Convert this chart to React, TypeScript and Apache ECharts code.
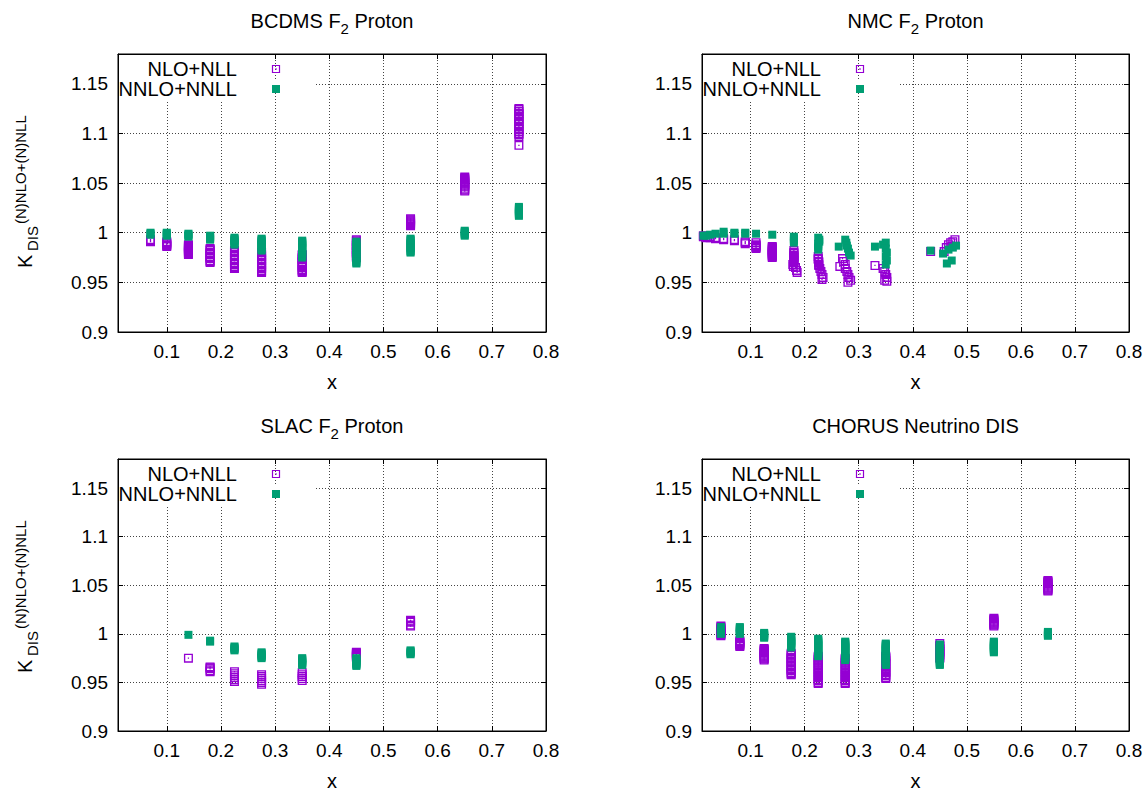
import React, { useEffect, useRef } from "react";
import * as echarts from "echarts";

const FONT = '"Liberation Sans", Arial, Helvetica, sans-serif';
const PURPLE = "#9400D3";
const GREEN = "#009E73";

const xTicks = [0.1, 0.2, 0.3, 0.4, 0.5, 0.6, 0.7, 0.8];
const xMin = 0.01;
const xMax = 0.8;
const yMin = 0.9;
const yMax = 1.18;
const yStep = 0.05;

const legendNames = ["NLO+NLL", "NNLO+NNLL"];
const titles = [
  ["BCDMS F", "2", " Proton"],
  ["NMC F", "2", " Proton"],
  ["SLAC F", "2", " Proton"],
  ["CHORUS Neutrino DIS", "", ""],
];

// BCDMS F2 proton
const bcdmsX = [0.07, 0.1, 0.14, 0.18, 0.225, 0.275, 0.35, 0.45, 0.55, 0.65, 0.75];
const bcdmsNLO = [
  [0.991, 0.992, 0.993],
  [0.986, 0.987, 0.988, 0.989, 0.99, 0.991],
  [0.978, 0.979, 0.98, 0.981, 0.982, 0.983, 0.984, 0.985, 0.986, 0.987, 0.988],
  [0.97, 0.971, 0.972, 0.974, 0.975, 0.976, 0.978, 0.979, 0.98, 0.982, 0.983, 0.984],
  [0.964, 0.965, 0.966, 0.968, 0.969, 0.97, 0.972, 0.973, 0.974, 0.976, 0.977, 0.978, 0.98, 0.981, 0.982],
  [0.96, 0.961, 0.962, 0.964, 0.965, 0.966, 0.968, 0.969, 0.97, 0.972, 0.973, 0.974, 0.976, 0.977, 0.978, 0.98],
  [0.96, 0.961, 0.962, 0.963, 0.965, 0.966, 0.967, 0.969, 0.97, 0.971, 0.973, 0.974, 0.975, 0.977, 0.978],
  [0.975, 0.976, 0.977, 0.979, 0.98, 0.981, 0.983, 0.984, 0.985, 0.987, 0.988, 0.989, 0.991, 0.992, 0.993],
  [1.007, 1.008, 1.009, 1.01, 1.011, 1.012, 1.013, 1.014],
  [1.042, 1.043, 1.044, 1.046, 1.047, 1.048, 1.049, 1.05, 1.051, 1.052, 1.053, 1.054, 1.055, 1.056],
  [1.088, 1.097, 1.099, 1.1, 1.102, 1.104, 1.105, 1.107, 1.109, 1.11, 1.112, 1.114, 1.115, 1.117, 1.119, 1.12, 1.122, 1.124, 1.125],
];
const bcdmsNNLO = [
  [0.998, 0.999, 1.0],
  [0.997, 0.998, 0.999, 1.0],
  [0.996, 0.997, 0.998, 0.999],
  [0.993, 0.994, 0.995, 0.996, 0.997],
  [0.988, 0.989, 0.99, 0.991, 0.992, 0.993, 0.994, 0.995],
  [0.982, 0.983, 0.984, 0.986, 0.987, 0.988, 0.989, 0.99, 0.991, 0.992, 0.993, 0.994],
  [0.975, 0.976, 0.977, 0.979, 0.98, 0.981, 0.983, 0.984, 0.985, 0.987, 0.988, 0.989, 0.99, 0.991, 0.992],
  [0.969, 0.97, 0.971, 0.973, 0.974, 0.975, 0.977, 0.978, 0.979, 0.981, 0.982, 0.983, 0.985, 0.986, 0.987, 0.989, 0.99, 0.991],
  [0.98, 0.981, 0.982, 0.984, 0.985, 0.986, 0.988, 0.989, 0.99, 0.992, 0.993, 0.994],
  [0.997, 0.998, 0.999, 1.0, 1.001, 1.002],
  [1.017, 1.018, 1.019, 1.02, 1.021, 1.022, 1.023, 1.024, 1.025, 1.026],
];

// NMC F2 proton (x, K)
const nmcNLO: [number, number][] = [
  [0.0125, 0.996], [0.0125, 0.997], [0.0175, 0.995], [0.0175, 0.996], [0.025, 0.995], [0.025, 0.996],
  [0.035, 0.994], [0.035, 0.995], [0.05, 0.993], [0.05, 0.994], [0.07, 0.992], [0.07, 0.993],
  [0.09, 0.989], [0.09, 0.99], [0.09, 0.991],
  [0.11, 0.984], [0.11, 0.985], [0.11, 0.986], [0.11, 0.987], [0.11, 0.988], [0.11, 0.99],
  [0.14, 0.975], [0.14, 0.976], [0.14, 0.977], [0.14, 0.978], [0.14, 0.979], [0.14, 0.98], [0.14, 0.981],
  [0.14, 0.982], [0.14, 0.983], [0.14, 0.984], [0.14, 0.985], [0.14, 0.986],
  [0.178, 0.968], [0.18, 0.97], [0.18, 0.971], [0.18, 0.972], [0.18, 0.973], [0.18, 0.975], [0.18, 0.976],
  [0.18, 0.977], [0.18, 0.979], [0.18, 0.98], [0.18, 0.982], [0.179, 0.966],
  [0.183, 0.965], [0.185, 0.962], [0.186, 0.96],
  [0.225, 0.976], [0.225, 0.974], [0.225, 0.973], [0.226, 0.971], [0.226, 0.97], [0.226, 0.968], [0.226, 0.967],
  [0.228, 0.964], [0.23, 0.961], [0.232, 0.958], [0.234, 0.955], [0.232, 0.953],
  [0.265, 0.966], [0.27, 0.974], [0.272, 0.971], [0.275, 0.968], [0.275, 0.964], [0.278, 0.961],
  [0.28, 0.958], [0.282, 0.955], [0.285, 0.952], [0.28, 0.95],
  [0.33, 0.967], [0.345, 0.964], [0.348, 0.961], [0.35, 0.958], [0.352, 0.955], [0.348, 0.952], [0.352, 0.951],
  [0.433, 0.981], [0.458, 0.981], [0.462, 0.985], [0.466, 0.988], [0.47, 0.99], [0.474, 0.991],
  [0.478, 0.993], [0.472, 0.986],
];
const nmcNNLO: [number, number][] = [
  [0.0125, 0.997], [0.0175, 0.997], [0.025, 0.998], [0.035, 0.999], [0.05, 0.999], [0.05, 1.001],
  [0.07, 0.999], [0.07, 1.0], [0.09, 0.999], [0.09, 1.0],
  [0.11, 0.999], [0.14, 0.998],
  [0.18, 0.99], [0.18, 0.992], [0.18, 0.994], [0.18, 0.996],
  [0.225, 0.983], [0.225, 0.985], [0.225, 0.987], [0.225, 0.989], [0.227, 0.991], [0.227, 0.993], [0.225, 0.995],
  [0.263, 0.986], [0.275, 0.993], [0.277, 0.99], [0.278, 0.987], [0.28, 0.984], [0.282, 0.98], [0.285, 0.977],
  [0.33, 0.986], [0.345, 0.988], [0.35, 0.99], [0.35, 0.984], [0.352, 0.98], [0.35, 0.976], [0.352, 0.972], [0.35, 0.968],
  [0.433, 0.982], [0.456, 0.979], [0.463, 0.969], [0.472, 0.972], [0.466, 0.983], [0.474, 0.985], [0.48, 0.987],
];

// SLAC F2 proton
const slacX = [0.14, 0.18, 0.225, 0.275, 0.35, 0.45, 0.55];
const slacNLO = [
  [0.975],
  [0.961, 0.962, 0.964, 0.965, 0.966],
  [0.951, 0.953, 0.955, 0.957, 0.959, 0.961],
  [0.948, 0.95, 0.952, 0.954, 0.956, 0.958],
  [0.952, 0.954, 0.956, 0.958, 0.96],
  [0.976, 0.977, 0.978, 0.979, 0.98, 0.981],
  [1.008, 1.009, 1.012, 1.013, 1.014],
];
const slacNNLO = [
  [0.999],
  [0.992, 0.993],
  [0.983, 0.984, 0.985, 0.986, 0.987],
  [0.975, 0.976, 0.977, 0.978, 0.979, 0.98, 0.981],
  [0.968, 0.969, 0.97, 0.971, 0.972, 0.973, 0.974, 0.975],
  [0.967, 0.968, 0.969, 0.97, 0.971, 0.972, 0.973, 0.974, 0.975],
  [0.979, 0.98, 0.981, 0.982, 0.983],
];

// CHORUS neutrino DIS
const chorusX = [0.045, 0.08, 0.125, 0.175, 0.225, 0.275, 0.35, 0.45, 0.55, 0.65];
const chorusNLO = [
  [0.998, 0.999, 1.0, 1.001, 1.002, 1.003, 1.004, 1.005, 1.006, 1.007, 1.008],
  [0.987, 0.988, 0.989, 0.99, 0.991, 0.992, 0.993],
  [0.973, 0.974, 0.975, 0.976, 0.977, 0.978, 0.979, 0.98, 0.981, 0.982, 0.983, 0.984, 0.985],
  [0.958, 0.959, 0.96, 0.962, 0.963, 0.964, 0.966, 0.967, 0.968, 0.97, 0.971, 0.972, 0.974, 0.975, 0.976, 0.978, 0.979, 0.98],
  [0.949, 0.95, 0.952, 0.953, 0.955, 0.956, 0.958, 0.959, 0.961, 0.962, 0.964, 0.965, 0.967, 0.968, 0.97, 0.971, 0.973, 0.974, 0.976, 0.977],
  [0.949, 0.95, 0.952, 0.953, 0.955, 0.956, 0.958, 0.959, 0.961, 0.962, 0.964, 0.965, 0.967, 0.968, 0.97, 0.971, 0.973, 0.974, 0.975],
  [0.954, 0.955, 0.957, 0.958, 0.96, 0.961, 0.963, 0.964, 0.966, 0.967, 0.969, 0.97, 0.972, 0.973, 0.975, 0.976, 0.977],
  [0.975, 0.976, 0.978, 0.979, 0.981, 0.982, 0.984, 0.985, 0.987, 0.988, 0.99],
  [1.008, 1.009, 1.01, 1.011, 1.012, 1.013, 1.014, 1.015, 1.016],
  [1.044, 1.045, 1.046, 1.047, 1.048, 1.049, 1.05, 1.051, 1.052, 1.053, 1.054, 1.055],
];
const chorusNNLO = [
  [1.0, 1.001, 1.002, 1.003, 1.004, 1.005, 1.006, 1.007],
  [1.0, 1.001, 1.002, 1.003, 1.004, 1.005, 1.006, 1.007],
  [0.996, 0.997, 0.998, 0.999, 1.0, 1.001],
  [0.986, 0.987, 0.988, 0.989, 0.99, 0.991, 0.992, 0.993, 0.994, 0.995, 0.996, 0.997],
  [0.977, 0.978, 0.979, 0.98, 0.981, 0.982, 0.983, 0.984, 0.985, 0.986, 0.987, 0.988, 0.989, 0.99, 0.991, 0.992, 0.993, 0.994, 0.995],
  [0.973, 0.974, 0.975, 0.976, 0.977, 0.978, 0.979, 0.98, 0.981, 0.982, 0.983, 0.984, 0.985, 0.986, 0.987, 0.988, 0.989, 0.99, 0.991, 0.992],
  [0.968, 0.969, 0.97, 0.971, 0.972, 0.973, 0.974, 0.975, 0.976, 0.977, 0.978, 0.979, 0.98, 0.981, 0.982, 0.983, 0.984, 0.985, 0.986, 0.987, 0.988, 0.989, 0.99],
  [0.968, 0.969, 0.97, 0.971, 0.972, 0.973, 0.974, 0.975, 0.976, 0.977, 0.978, 0.979, 0.98, 0.981, 0.982, 0.983, 0.984, 0.985, 0.986, 0.987, 0.988, 0.989],
  [0.981, 0.982, 0.983, 0.984, 0.985, 0.986, 0.987, 0.988, 0.989, 0.99, 0.991, 0.992],
  [0.998, 0.999, 1.0, 1.001, 1.002],
];

const stack = (xs: number[], ys: number[][]) =>
  xs.flatMap((x, i) => ys[i].map((y) => [x, y]));

const panelData = [
  { nlo: stack(bcdmsX, bcdmsNLO), nnlo: stack(bcdmsX, bcdmsNNLO) },
  { nlo: nmcNLO, nnlo: nmcNNLO },
  { nlo: stack(slacX, slacNLO), nnlo: stack(slacX, slacNNLO) },
  { nlo: stack(chorusX, chorusNLO), nnlo: stack(chorusX, chorusNNLO) },
];

const boxes = [
  { left: 118, top: 54, width: 428, height: 278 },
  { left: 702, top: 54, width: 427, height: 278 },
  { left: 118, top: 459, width: 428, height: 277 },
  { left: 702, top: 459, width: 427, height: 277 },
];

const OPEN_SQUARE =
  "path://M0,0H10V10H0Z M1.5,1.5V8.5H8.5V1.5Z M4.3,4.3H5.7V5.7H4.3Z";

function buildOption() {
  const grid: any[] = [];
  const xAxis: any[] = [];
  const yAxis: any[] = [];
  const series: any[] = [];
  const graphic: any[] = [];
  const gridLine = { show: true, lineStyle: { type: [1, 2], color: "#444", width: 1 } };
  const tick = { show: true, inside: true, length: 5, lineStyle: { color: "#000", width: 1 } };
  const axisLine = { show: true, onZero: false, lineStyle: { color: "#000", width: 1 } };

  boxes.forEach((b, i) => {
    grid.push({
      left: b.left, top: b.top, width: b.width, height: b.height,
      show: true, borderColor: "#000", borderWidth: 1, backgroundColor: "transparent",
    });
    xAxis.push({
      type: "value", gridIndex: i, min: xMin, max: xMax, interval: 0.1, position: "bottom",
      axisLine, axisTick: { ...tick, customValues: xTicks },
      axisLabel: { customValues: xTicks, color: "#000", fontSize: 19, fontFamily: FONT, margin: 10 },
      splitLine: gridLine,
      name: "x", nameLocation: "middle", nameGap: 40,
      nameTextStyle: { color: "#000", fontSize: 20, fontFamily: FONT },
    });
    xAxis.push({
      type: "value", gridIndex: i, min: xMin, max: xMax, interval: 0.1, position: "top",
      axisLine, axisTick: { ...tick, customValues: xTicks },
      axisLabel: { show: false }, splitLine: { show: false },
    });
    yAxis.push({
      type: "value", gridIndex: i, min: yMin, max: yMax, interval: yStep, position: "left",
      axisLine, axisTick: tick,
      axisLabel: { color: "#000", fontSize: 19, fontFamily: FONT, margin: 10, showMaxLabel: false },
      splitLine: gridLine,
    });
    yAxis.push({
      type: "value", gridIndex: i, min: yMin, max: yMax, interval: yStep, position: "right",
      axisLine, axisTick: tick, axisLabel: { show: false }, splitLine: { show: false },
    });
    series.push({
      type: "scatter", name: legendNames[0], xAxisIndex: 2 * i, yAxisIndex: 2 * i,
      data: panelData[i].nlo, symbol: OPEN_SQUARE, symbolSize: 9,
      itemStyle: { color: PURPLE, opacity: 1 }, z: 2,
    });
    series.push({
      type: "scatter", name: legendNames[1], xAxisIndex: 2 * i, yAxisIndex: 2 * i,
      data: panelData[i].nnlo, symbol: "rect", symbolSize: 8,
      itemStyle: { color: GREEN, opacity: 1 }, z: 3,
    });

    // title
    const t = titles[i];
    const titleText = t[1] ? `{a|${t[0]}}{s|${t[1]}}{a|${t[2]}}` : `{a|${t[0]}}`;
    graphic.push({
      type: "text", x: b.left + b.width / 2, y: b.top - 33, z: 60,
      style: {
        text: titleText, align: "center", verticalAlign: "middle", fill: "#000",
        rich: {
          a: { fontSize: 20, fontFamily: FONT, lineHeight: 30, verticalAlign: "middle", fill: "#000" },
          s: { fontSize: 15, fontFamily: FONT, lineHeight: 15, verticalAlign: "bottom", fill: "#000" },
        },
      },
    });

    // legend (opaque key box)
    graphic.push({
      type: "rect", z: 50, silent: true,
      shape: { x: b.left + 1, y: b.top + 1, width: 151, height: 45 },
      style: { fill: "#fff" },
    });
    graphic.push({
      type: "rect", z: 50, silent: true,
      shape: { x: b.left + 151, y: b.top + 26, width: 45, height: 6 },
      style: { fill: "#fff" },
    });
    graphic.push({
      type: "text", x: b.left + 119, y: b.top + 15, z: 60,
      style: { text: legendNames[0], align: "right", verticalAlign: "middle", fill: "#000", font: `20px ${FONT}` },
    });
    graphic.push({
      type: "text", x: b.left + 119, y: b.top + 35, z: 60,
      style: { text: legendNames[1], align: "right", verticalAlign: "middle", fill: "#000", font: `20px ${FONT}` },
    });
    const mx = b.left + 158;
    graphic.push({
      type: "rect", z: 60, shape: { x: mx - 3.5, y: b.top + 15 - 3.5, width: 7, height: 7 },
      style: { fill: "none", stroke: PURPLE, lineWidth: 1.2 },
    });
    graphic.push({
      type: "rect", z: 60, shape: { x: mx - 0.7, y: b.top + 15 - 0.7, width: 1.4, height: 1.4 },
      style: { fill: PURPLE },
    });
    graphic.push({
      type: "rect", z: 60, shape: { x: mx - 4, y: b.top + 35 - 4, width: 8, height: 8 },
      style: { fill: GREEN },
    });

    // y-axis label on left panels
    if (i % 2 === 0) {
      const off = b.top - 54;
      graphic.push({
        type: "text", x: 24.5, y: 268 + off, rotation: Math.PI / 2, z: 60,
        style: { text: "K", align: "left", verticalAlign: "middle", fill: "#000", font: `20px ${FONT}` },
      });
      graphic.push({
        type: "text", x: 32.5, y: 251 + off, rotation: Math.PI / 2, z: 60,
        style: { text: "DIS", align: "left", verticalAlign: "middle", fill: "#000", font: `15px ${FONT}` },
      });
      graphic.push({
        type: "text", x: 20.5, y: 224 + off, rotation: Math.PI / 2, z: 60,
        style: { text: "(N)NLO+(N)NLL", align: "left", verticalAlign: "middle", fill: "#000", font: `15px ${FONT}` },
      });
    }
  });

  return {
    animation: false,
    backgroundColor: "#fff",
    textStyle: { fontFamily: FONT },
    grid, xAxis, yAxis, series, graphic,
  };
}

export default function App() {
  const ref = useRef<HTMLDivElement>(null);
  useEffect(() => {
    document.body.style.margin = "0";
    if (!ref.current) return;
    const chart = echarts.init(ref.current, null, { renderer: "svg" });
    chart.setOption(buildOption());
    return () => chart.dispose();
  }, []);
  return <div ref={ref} style={{ width: 1148, height: 792 }} />;
}
